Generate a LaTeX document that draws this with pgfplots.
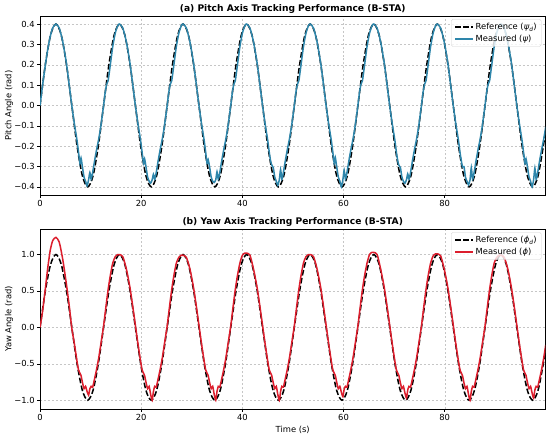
\documentclass[border=0pt]{standalone}
\usepackage{fontspec}
\setmainfont{DejaVu Sans}
\usepackage{pgfplots}
\pgfplotsset{compat=1.18}
\usepackage{pgfplotstable}
\definecolor{mblue}{HTML}{2E86AB}
\definecolor{mred}{HTML}{DC1E2D}

\pgfplotstableread{
t p y
0.000 0 0
1.047 0.2 0.5
2.094 0.3464 0.866
3.142 0.4 1
4.189 0.3464 0.866
5.236 0.2 0.5
6.283 0 0
7.330 -0.2 -0.5
8.378 -0.3464 -0.866
9.425 -0.4 -1
10.472 -0.3464 -0.866
11.519 -0.2 -0.5
12.566 0 0
13.614 0.2 0.5
14.661 0.3464 0.866
15.708 0.4 1
16.755 0.3464 0.866
17.802 0.2 0.5
18.850 0 0
19.897 -0.2 -0.5
20.944 -0.3464 -0.866
21.991 -0.4 -1
23.038 -0.3464 -0.866
24.086 -0.2 -0.5
25.133 0 0
26.180 0.2 0.5
27.227 0.3464 0.866
28.274 0.4 1
29.322 0.3464 0.866
30.369 0.2 0.5
31.416 0 0
32.463 -0.2 -0.5
33.510 -0.3464 -0.866
34.558 -0.4 -1
35.605 -0.3464 -0.866
36.652 -0.2 -0.5
37.699 0 0
38.746 0.2 0.5
39.794 0.3464 0.866
40.841 0.4 1
41.888 0.3464 0.866
42.935 0.2 0.5
43.982 0 0
45.029 -0.2 -0.5
46.077 -0.3464 -0.866
47.124 -0.4 -1
48.171 -0.3464 -0.866
49.218 -0.2 -0.5
50.265 0 0
51.313 0.2 0.5
52.360 0.3464 0.866
53.407 0.4 1
54.454 0.3464 0.866
55.501 0.2 0.5
56.549 0 0
57.596 -0.2 -0.5
58.643 -0.3464 -0.866
59.690 -0.4 -1
60.737 -0.3464 -0.866
61.785 -0.2 -0.5
62.832 0 0
63.879 0.2 0.5
64.926 0.3464 0.866
65.973 0.4 1
67.021 0.3464 0.866
68.068 0.2 0.5
69.115 0 0
70.162 -0.2 -0.5
71.209 -0.3464 -0.866
72.257 -0.4 -1
73.304 -0.3464 -0.866
74.351 -0.2 -0.5
75.398 0 0
76.445 0.2 0.5
77.493 0.3464 0.866
78.540 0.4 1
79.587 0.3464 0.866
80.634 0.2 0.5
81.681 0 0
82.729 -0.2 -0.5
83.776 -0.3464 -0.866
84.823 -0.4 -1
85.870 -0.3464 -0.866
86.917 -0.2 -0.5
87.965 0 0
89.012 0.2 0.5
90.059 0.3464 0.866
91.106 0.4 1
92.153 0.3464 0.866
93.201 0.2 0.5
94.248 0 0
95.295 -0.2 -0.5
96.342 -0.3464 -0.866
97.389 -0.4 -1
98.437 -0.3464 -0.866
99.484 -0.2 -0.5
99.900 -0.124 -0.311
}\reftab

\pgfplotstableread{
t p y
0.000 0.000 0.00
0.500 0.098 0.22
1.000 0.190 0.50
1.500 0.272 0.80
2.000 0.337 1.05
2.500 0.381 1.19
3.140 0.400 1.235
3.800 0.380 1.17
4.500 0.312 0.93
5.200 0.210 0.60
5.800 0.095 0.28
6.280 0.000 -0.01
6.800 -0.092 -0.23
7.300 -0.170 -0.46
7.600 -0.228 -0.58
7.900 -0.285 -0.63
8.100 -0.258 -0.66
8.400 -0.305 -0.76
8.700 -0.352 -0.84
9.000 -0.372 -0.81
9.300 -0.395 -0.88
9.600 -0.365 -0.93
9.850 -0.330 -0.84
10.100 -0.362 -0.81
10.400 -0.330 -0.82
10.800 -0.270 -0.70
11.200 -0.215 -0.57
11.600 -0.165 -0.42
12.000 -0.105 -0.24
12.566 0.000 0.02
12.866 0.062 0.19
13.166 0.103 0.36
13.466 0.122 0.52
13.866 0.195 0.70
14.366 0.288 0.88
14.866 0.355 0.97
15.366 0.392 1.00
15.706 0.400 1.00
16.366 0.380 0.97
17.066 0.312 0.80
17.766 0.210 0.55
18.366 0.095 0.27
18.846 0.000 0.03
19.366 -0.092 -0.23
19.866 -0.170 -0.46
20.166 -0.228 -0.58
20.466 -0.285 -0.63
20.666 -0.262 -0.66
20.966 -0.305 -0.76
21.266 -0.352 -0.84
21.566 -0.372 -0.81
21.866 -0.382 -0.92
22.166 -0.365 -1.00
22.416 -0.338 -0.88
22.666 -0.362 -0.81
22.966 -0.330 -0.82
23.366 -0.270 -0.70
23.766 -0.215 -0.57
24.166 -0.165 -0.42
24.566 -0.105 -0.24
25.133 0.000 0.02
25.433 0.062 0.19
25.733 0.103 0.36
26.033 0.122 0.52
26.433 0.195 0.70
26.933 0.288 0.88
27.433 0.355 0.96
27.933 0.392 0.99
28.273 0.400 0.99
28.933 0.380 0.96
29.633 0.312 0.80
30.333 0.210 0.55
30.933 0.095 0.27
31.413 0.000 0.03
31.933 -0.092 -0.23
32.433 -0.170 -0.46
32.733 -0.228 -0.58
33.033 -0.285 -0.63
33.233 -0.266 -0.66
33.533 -0.305 -0.76
33.833 -0.352 -0.84
34.133 -0.372 -0.81
34.433 -0.378 -0.92
34.733 -0.365 -1.00
34.983 -0.326 -0.88
35.233 -0.362 -0.81
35.533 -0.330 -0.82
35.933 -0.270 -0.70
36.333 -0.215 -0.57
36.733 -0.165 -0.42
37.133 -0.105 -0.24
37.699 0.000 0.02
37.999 0.062 0.19
38.299 0.103 0.36
38.599 0.122 0.52
38.999 0.195 0.70
39.499 0.288 0.88
39.999 0.355 0.99
40.499 0.392 1.02
40.839 0.400 1.02
41.499 0.380 0.99
42.199 0.312 0.80
42.899 0.210 0.55
43.499 0.095 0.27
43.979 0.000 0.03
44.499 -0.092 -0.23
44.999 -0.170 -0.46
45.299 -0.228 -0.58
45.599 -0.275 -0.63
45.799 -0.292 -0.66
46.099 -0.305 -0.76
46.399 -0.352 -0.84
46.699 -0.372 -0.81
46.999 -0.392 -0.92
47.299 -0.365 -1.00
47.549 -0.315 -0.88
47.799 -0.362 -0.81
48.099 -0.330 -0.82
48.499 -0.270 -0.70
48.899 -0.215 -0.57
49.299 -0.165 -0.42
49.699 -0.105 -0.24
50.265 0.000 0.02
50.565 0.062 0.19
50.865 0.103 0.36
51.165 0.122 0.52
51.565 0.195 0.70
52.065 0.288 0.88
52.565 0.355 0.97
53.065 0.392 1.00
53.405 0.400 1.00
54.065 0.380 0.97
54.765 0.312 0.80
55.465 0.210 0.55
56.065 0.095 0.27
56.545 0.000 0.03
57.065 -0.092 -0.23
57.565 -0.170 -0.46
57.865 -0.228 -0.58
58.165 -0.285 -0.63
58.365 -0.256 -0.66
58.665 -0.305 -0.76
58.965 -0.352 -0.84
59.265 -0.372 -0.81
59.565 -0.400 -0.89
59.865 -0.365 -0.95
60.115 -0.318 -0.85
60.365 -0.362 -0.81
60.665 -0.330 -0.82
61.065 -0.270 -0.70
61.465 -0.215 -0.57
61.865 -0.165 -0.42
62.265 -0.105 -0.24
62.832 0.000 0.02
63.132 0.062 0.19
63.432 0.103 0.36
63.732 0.122 0.52
64.132 0.195 0.70
64.632 0.288 0.88
65.132 0.355 1.00
65.632 0.392 1.03
65.972 0.400 1.03
66.632 0.380 1.00
67.332 0.312 0.80
68.032 0.210 0.55
68.632 0.095 0.27
69.112 0.000 0.03
69.632 -0.092 -0.23
70.132 -0.170 -0.46
70.432 -0.228 -0.58
70.732 -0.275 -0.63
70.932 -0.294 -0.66
71.232 -0.305 -0.76
71.532 -0.352 -0.84
71.832 -0.372 -0.81
72.132 -0.382 -0.90
72.432 -0.365 -0.97
72.682 -0.336 -0.86
72.932 -0.362 -0.81
73.232 -0.330 -0.82
73.632 -0.270 -0.70
74.032 -0.215 -0.57
74.432 -0.165 -0.42
74.832 -0.105 -0.24
75.398 0.000 0.02
75.698 0.062 0.19
75.998 0.103 0.36
76.298 0.122 0.52
76.698 0.195 0.70
77.198 0.288 0.88
77.698 0.355 0.98
78.198 0.392 1.01
78.538 0.400 1.01
79.198 0.380 0.98
79.898 0.312 0.80
80.598 0.210 0.55
81.198 0.095 0.27
81.678 0.000 0.03
82.198 -0.092 -0.23
82.698 -0.170 -0.46
82.998 -0.228 -0.58
83.298 -0.275 -0.63
83.498 -0.302 -0.66
83.798 -0.300 -0.76
84.098 -0.352 -0.84
84.398 -0.372 -0.81
84.698 -0.390 -0.92
84.998 -0.365 -1.00
85.248 -0.306 -0.88
85.498 -0.362 -0.81
85.798 -0.330 -0.82
86.198 -0.270 -0.70
86.598 -0.215 -0.57
86.998 -0.165 -0.42
87.398 -0.105 -0.24
87.965 0.000 0.02
88.265 0.062 0.19
88.565 0.103 0.36
88.865 0.122 0.52
89.265 0.195 0.70
89.765 0.288 0.88
90.265 0.355 0.96
90.765 0.392 0.99
91.105 0.400 0.99
91.765 0.380 0.96
92.465 0.312 0.80
93.165 0.210 0.55
93.765 0.095 0.27
94.245 0.000 0.03
94.765 -0.092 -0.23
95.265 -0.170 -0.46
95.565 -0.228 -0.58
95.865 -0.285 -0.63
96.065 -0.262 -0.66
96.365 -0.305 -0.76
96.665 -0.352 -0.84
96.965 -0.372 -0.81
97.265 -0.400 -0.90
97.565 -0.365 -0.97
97.815 -0.308 -0.86
98.065 -0.362 -0.81
98.365 -0.330 -0.82
98.765 -0.270 -0.70
99.165 -0.215 -0.57
99.565 -0.165 -0.42
99.965 -0.105 -0.24
}\meastab

\pgfplotsset{
  common/.style={
    scale only axis,
    width=661.6bp,
    xmin=0, xmax=99.9,
    xtick={0,20,40,60,80},
    xticklabels={0,20,40,60,80},
    axis line style={black, line width=0.8pt},
    tick align=outside,
    xtick pos=bottom, ytick pos=left,
    major tick length=3.5bp,
    tick style={black, line width=0.8pt},
    grid=major,
    major grid style={gray!45, line width=0.6pt, dash pattern=on 2.6pt off 2.6pt},
    ticklabel style={font=\fontsize{11}{13}\selectfont},
    label style={font=\fontsize{11}{13}\selectfont},
    ylabel style={at={(axis description cs:-0.0614,0.5)}, anchor=center},
    title style={font=\fontsize{12}{14}\selectfont\bfseries, yshift=-6pt},
    legend style={at={(0.992,0.982)}, anchor=north east, draw=gray!35,
      rounded corners=2pt, fill=white, fill opacity=0.8, text opacity=1,
      font=\fontsize{11}{13}\selectfont, inner xsep=4pt, inner ysep=3pt,
      row sep=2pt},
    legend cell align=left,
    legend image code/.code={\draw[##1] (0bp,0bp) -- (24bp,0bp);},
  },
  refline/.style={black, line width=2pt, dash pattern=on 7.4pt off 3.2pt, smooth},
}

\begin{document}
\begin{tikzpicture}
\path[use as bounding box] (0,0) rectangle (720bp,572bp);
\begin{axis}[common,
  at={(52.4bp,316.7bp)}, anchor=south west,
  height=234.5bp,
  ymin=-0.44, ymax=0.44,
  ytick={-0.4,-0.3,-0.2,-0.1,0,0.1,0.2,0.3,0.4},
  yticklabels={−0.4,−0.3,−0.2,−0.1,0.0,0.1,0.2,0.3,0.4},
  ylabel={Pitch Angle (rad)},
  title={(a) Pitch Axis Tracking Performance (B-STA)},
]
\addplot[refline] table[x=t,y=p] {\reftab};
\addlegendentry{Reference ({\itshape ψ}\textsubscript{\itshape d})}
\addplot[mblue, line width=2pt, smooth, tension=0.4] table[x=t,y=p] {\meastab};
\addlegendentry{Measured ({\itshape ψ})}
\end{axis}
\begin{axis}[common,
  at={(52.4bp,36.6bp)}, anchor=south west,
  height=235.6bp,
  ymin=-1.12, ymax=1.35,
  ytick={-1,-0.5,0,0.5,1},
  yticklabels={−1.0,−0.5,0.0,0.5,1.0},
  ylabel={Yaw Angle (rad)},
  xlabel={Time (s)},
  title={(b) Yaw Axis Tracking Performance (B-STA)},
]
\addplot[refline] table[x=t,y=y] {\reftab};
\addlegendentry{Reference ({\itshape ϕ}\textsubscript{\itshape d})}
\addplot[mred, line width=2pt, smooth, tension=0.4] table[x=t,y=y] {\meastab};
\addlegendentry{Measured ({\itshape ϕ})}
\end{axis}
\end{tikzpicture}
\end{document}
